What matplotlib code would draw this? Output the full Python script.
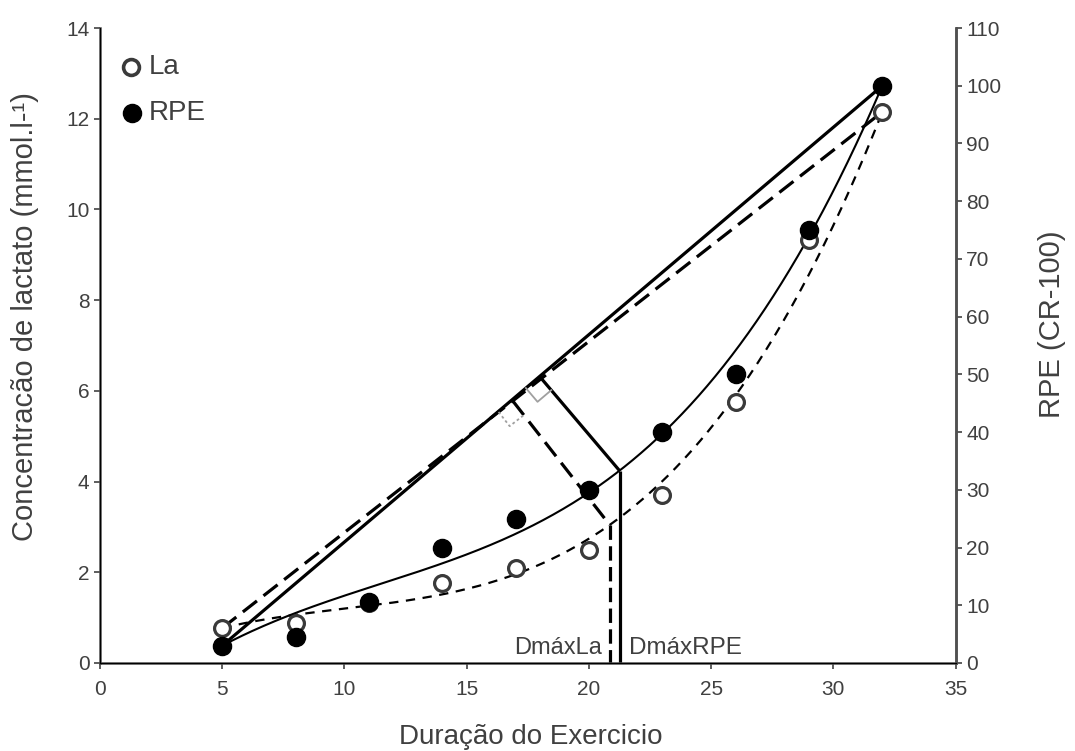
import numpy as np
import matplotlib
matplotlib.use("Agg")
import matplotlib.pyplot as plt

# ---- data ----
duration = [5, 8, 11, 14, 17, 20, 23, 26, 29, 32]
la_values = [0.77, 0.88, 1.33, 1.76, 2.09, 2.49, 3.70, 5.75, 9.33, 12.15]
rpe_values = [3, 4.5, 10.6, 20, 25, 30, 40, 50, 75, 100]
dmax_la = 20.85     # Dmax threshold (minutes) for lactate
dmax_rpe = 21.25    # Dmax threshold (minutes) for RPE

x_ticks = [0, 5, 10, 15, 20, 25, 30, 35]
left_ticks = [0, 2, 4, 6, 8, 10, 12, 14]
right_ticks = [0, 10, 20, 30, 40, 50, 60, 70, 80, 90, 100, 110]
LEFT_MAX = 14
RIGHT_MAX = 110

text_col = "#404040"
spine_col = "#505050"
plt.rcParams["font.family"] = ["Liberation Sans", "DejaVu Sans"]

fig = plt.figure(figsize=(10.75, 7.51), dpi=100)
ax = fig.add_axes([0.093, 0.1172, 0.796, 0.8455])
ax.set_xlim(0, 35)
ax.set_ylim(0, LEFT_MAX)

x = np.array(duration, float)
la = np.array(la_values, float)
rpe_scaled = np.array(rpe_values, float) * LEFT_MAX / RIGHT_MAX  # left-axis units


def anchored_cubic(xd, yd):
    """Least-squares cubic that passes through the first and last points."""
    x0, x1, y0, y1 = xd[0], xd[-1], yd[0], yd[-1]

    def chord(t):
        return y0 + (y1 - y0) * (t - x0) / (x1 - x0)

    def basis(t):
        q = (t - x0) * (t - x1)
        return np.column_stack([q, q * t])

    coef, *_ = np.linalg.lstsq(basis(xd), yd - chord(xd), rcond=None)
    return lambda t: chord(np.asarray(t, float)) + basis(np.atleast_1d(np.asarray(t, float))) @ coef


xs = np.linspace(x[0], x[-1], 400)
la_f = anchored_cubic(x, la)
rpe_f = anchored_cubic(x, rpe_scaled)

fig.canvas.draw()
T = ax.transData
inv = T.inverted()

chord_dash = (5.6, 2.6)


def draw_dmax(f, xd, yd, xm, dashed):
    a, b = T.transform([[xd[0], yd[0]], [xd[-1], yd[-1]]])
    d = (b - a) / np.linalg.norm(b - a)
    p = T.transform([[xm, f(xm)[0]]])[0]
    foot = a + np.dot(p - a, d) * d
    kw = dict(color="black", lw=2.3, solid_capstyle="butt")
    if dashed:
        kw["dashes"] = chord_dash
    ax.plot([xd[0], xd[-1]], [yd[0], yd[-1]], **kw)
    seg = inv.transform(np.array([foot, p]))
    ax.plot(seg[:, 0], seg[:, 1], **kw)
    vkw = dict(kw)
    if dashed:
        vkw["dashes"] = (4.5, 2.0)
    ax.plot([xm, xm], [f(xm)[0], 0], **vkw)
    # right-angle marker
    n = (p - foot) / np.linalg.norm(p - foot)
    size = 18
    c1 = foot - d * size
    c2 = c1 + n * size
    c3 = foot + n * size
    sq = inv.transform(np.array([c1, c2, c3]))
    ax.plot(sq[:, 0], sq[:, 1], color="#a0a0a0", lw=1.3,
            ls=(0, (1.5, 1.5)) if dashed else "-")


draw_dmax(rpe_f, x, rpe_scaled, dmax_rpe, dashed=False)
draw_dmax(la_f, x, la, dmax_la, dashed=True)

# fitted curves
ax.plot(xs, rpe_f(xs), color="black", lw=1.5)
ax.plot(xs, la_f(xs), color="black", lw=1.6, dashes=(4.2, 3.4))

# points
ax.scatter(x, la, s=130, facecolor="white", edgecolor="#3a3a3a", lw=2.3, zorder=5)
ax.scatter(x, rpe_scaled, s=170, color="black", zorder=6)

# Dmax labels
ax.text(dmax_la - 0.3, 0.33, "DmáxLa", ha="right", va="center", fontsize=17, color=text_col)
ax.text(dmax_rpe + 0.4, 0.33, "DmáxRPE", ha="left", va="center", fontsize=17.5, color=text_col)

# legend
ax.scatter([1.28], [13.13], s=130, facecolor="white", edgecolor="#3a3a3a", lw=2.6, zorder=6)
ax.text(2.0, 13.13, "La", va="center", fontsize=20, color=text_col)
ax.scatter([1.32], [12.13], s=170, color="black", zorder=6)
ax.text(2.0, 12.13, "RPE", va="center", fontsize=20, color=text_col)

# axes styling
ax.set_xticks(x_ticks)
ax.set_yticks(left_ticks)
ax.spines["top"].set_visible(False)
for s in ["left", "bottom", "right"]:
    ax.spines[s].set_color(spine_col)
    ax.spines[s].set_linewidth(1.8)
ax.tick_params(axis="both", direction="out", length=4, width=1.3, colors=spine_col,
               labelcolor=text_col, labelsize=15)
ax.tick_params(axis="x", pad=8)
ax.set_xlabel("Duração do Exercicio", fontsize=20, color=text_col)
ax.xaxis.set_label_coords(0.504, -0.117)
ax.xaxis.label.set_va("center")
ax.set_ylabel("Concentracão de lactato (mmol.l-¹)", fontsize=21, color=text_col)
ax.yaxis.set_label_coords(-0.088, 0.546)
ax.yaxis.label.set_va("center")

ax2 = ax.twinx()
ax2.set_ylim(0, RIGHT_MAX)
ax2.set_yticks(right_ticks)
ax2.spines["top"].set_visible(False)
ax2.spines["right"].set_color(spine_col)
ax2.spines["right"].set_linewidth(1.8)
ax2.tick_params(axis="y", direction="out", length=4, width=1.3, colors=spine_col,
                labelcolor=text_col, labelsize=15)
ax2.set_ylabel("RPE (CR-100)", fontsize=21, color=text_col)
ax2.yaxis.set_label_coords(1.113, 0.534)
ax2.yaxis.label.set_va("center")

fig.savefig("out.png", dpi=100)
